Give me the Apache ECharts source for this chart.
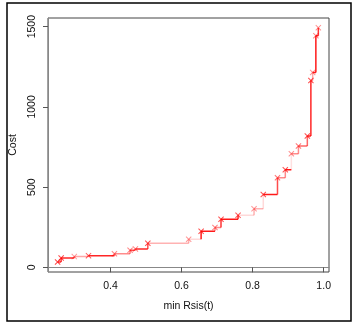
<!DOCTYPE html>
<html>
<head>
<meta charset="utf-8">
<script src="https://cdn.jsdelivr.net/npm/echarts@6/dist/echarts.min.js"></script>
<style>
  html, body { margin: 0; padding: 0; background: #fff; }
  #chart { width: 353px; height: 322px; }
</style>
</head>
<body>
<div id="chart"></div>
<script>
// Pareto front: minimum Rsis(t) against cost
const rsis = [0.251, 0.261, 0.298, 0.338, 0.411, 0.455, 0.470, 0.505, 0.620, 0.655, 0.694, 0.711,
              0.759, 0.804, 0.830, 0.870, 0.892, 0.909, 0.929, 0.954, 0.964, 0.969, 0.978, 0.985];
const cost = [33, 58, 67, 73, 85, 106, 115, 150, 175, 225, 248, 300,
              325, 365, 454, 558, 608, 708, 756, 819, 1165, 1215, 1444, 1494];

// tick labels
const xTicks = [0.4, 0.6, 0.8, 1.0];
const yTicks = [0, 500, 1000, 1500];

// opacity of each step piece (horizontal run after point i, vertical rise into point i+1)
const runAlpha  = [0.8, 0.85, 0.35, 0.85, 0.45, 0.7, 0.85, 0.3, 0.15, 0.9, 0.45, 0.9,
                   0.15, 0.3, 0.9, 0.45, 0.9, 0.45, 0.6, 0.9, 0.45, 0.9, 0.85];
const riseAlpha = [0.8, 0.5, 0.5, 0.5, 0.5, 0.5, 0.7, 0.3, 0.9, 0.45, 0.8, 0.85,
                   0.3, 0.15, 0.7, 0.45, 0.12, 0.45, 0.6, 0.85, 0.35, 0.9, 0.8];
const markAlpha = [0.9, 0.9, 0.5, 0.8, 0.6, 0.6, 0.6, 0.85, 0.5, 0.85, 0.6, 0.85,
                   0.8, 0.5, 0.85, 0.7, 0.85, 0.55, 0.65, 0.85, 0.85, 0.55, 0.6, 0.55];

const red = a => 'rgba(255,0,0,' + a + ')';
const font = 'Arial, "Liberation Sans", sans-serif';
const crossPath = 'path://M0,1.2L1.2,0L5,3.8L8.8,0L10,1.2L6.2,5L10,8.8L8.8,10L5,6.2L1.2,10L0,8.8L3.8,5Z';

const series = [];
for (let i = 0; i < rsis.length - 1; i++) {
  series.push({
    type: 'line', silent: true, symbol: 'none', animation: false,
    lineStyle: { color: red(runAlpha[i]), width: 1.5 },
    data: [[rsis[i], cost[i]], [rsis[i + 1], cost[i]]]
  });
  series.push({
    type: 'line', silent: true, symbol: 'none', animation: false,
    lineStyle: { color: red(riseAlpha[i]), width: 1.5 },
    data: [[rsis[i + 1], cost[i]], [rsis[i + 1], cost[i + 1]]]
  });
}
series.push({
  type: 'scatter', animation: false, symbol: crossPath, symbolSize: 6,
  data: rsis.map((x, i) => ({ value: [x, cost[i]], itemStyle: { color: red(markAlpha[i]) } }))
});

const chart = echarts.init(document.getElementById('chart'), null, { renderer: 'canvas' });
chart.setOption({
  backgroundColor: '#fff',
  animation: false,
  grid: {
    left: 48, right: 24, top: 18, bottom: 50,
    show: true, borderColor: '#444', borderWidth: 1,
    containLabel: false, outerBoundsMode: 'none'
  },
  xAxis: {
    type: 'value', min: 0.224, max: 1.015,
    name: 'min Rsis(t)', nameLocation: 'middle', nameGap: 29,
    nameTextStyle: { color: '#111', fontSize: 10.5, fontFamily: font },
    splitLine: { show: false },
    axisLine: { show: true, lineStyle: { color: '#888', width: 1 } },
    axisTick: { show: true, inside: false, length: 5, lineStyle: { color: '#555' }, customValues: xTicks },
    axisLabel: {
      color: '#111', fontSize: 10.5, fontFamily: font, margin: 9,
      customValues: xTicks, formatter: v => v.toFixed(1)
    }
  },
  yAxis: {
    type: 'value', min: -29, max: 1554,
    name: 'Cost', nameLocation: 'middle', nameGap: 28,
    nameTextStyle: { color: '#111', fontSize: 10.5, fontFamily: font },
    splitLine: { show: false },
    axisLine: { show: true, lineStyle: { color: '#888', width: 1 } },
    axisTick: { show: true, inside: false, length: 5, lineStyle: { color: '#555' }, customValues: yTicks },
    axisLabel: {
      color: '#111', fontSize: 10.5, fontFamily: font, margin: 10, rotate: 90,
      customValues: yTicks, formatter: v => String(v)
    }
  },
  graphic: [{
    type: 'rect', silent: true,
    shape: { x: 7, y: 3, width: 344, height: 318 },
    style: { fill: 'none', stroke: '#000', lineWidth: 1.5 }
  }],
  series: series
});
</script>
</body>
</html>
